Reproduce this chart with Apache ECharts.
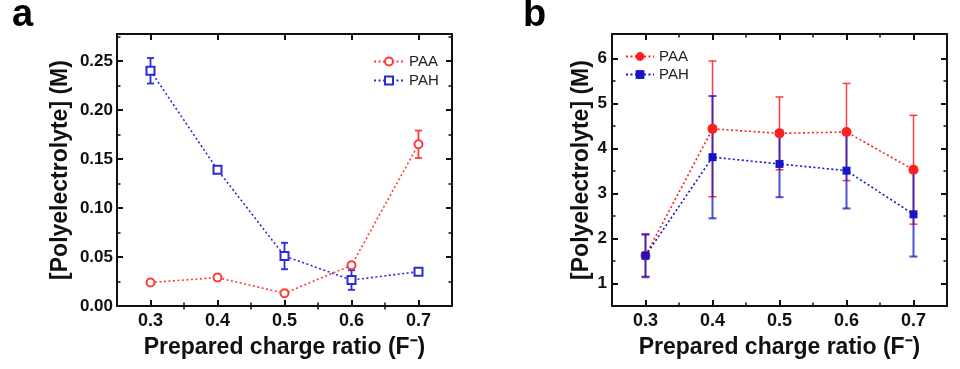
<!DOCTYPE html>
<html>
<head>
<meta charset="utf-8">
<script src="https://cdn.jsdelivr.net/npm/echarts@6/dist/echarts.min.js"></script>
<style>
html,body{margin:0;padding:0;background:#fff;}
#c{width:960px;height:369px;}
</style>
</head>
<body>
<div id="c"></div>
<script>
// ---- data ----
const ratios = [0.3, 0.4, 0.5, 0.6, 0.7];
const xTicks = [0.3, 0.4, 0.5, 0.6, 0.7];
const xMinorTicks = [0.35, 0.45, 0.55, 0.65];
const yTicksA = [0, 0.05, 0.10, 0.15, 0.20, 0.25];
const yMinorTicksA = [0.025, 0.075, 0.125, 0.175, 0.225, 0.275];
const yTicksB = [1, 2, 3, 4, 5, 6];
const yMinorTicksB = [1.5, 2.5, 3.5, 4.5, 5.5];

const paaA = [0.024, 0.029, 0.013, 0.0415, 0.165];
const paaAErr = [0.002, 0.003, 0.003, 0.002, 0.014];
const pahA = [0.240, 0.139, 0.051, 0.0265, 0.035];
const pahAErr = [0.013, 0.003, 0.0135, 0.010, 0.003];

const paaB = [1.62, 4.44, 4.34, 4.37, 3.53];
const paaBErr = [0.46, 1.51, 0.81, 1.08, 1.21];
const pahB = [1.62, 3.81, 3.66, 3.51, 2.54];
const pahBErr = [0.48, 1.36, 0.74, 0.84, 0.94];

// ---- styling ----
const FONT = 'Liberation Sans, Arial, Helvetica, sans-serif';
const RED_A = '#ff3a3a', BLUE_A = '#2a2ad6';
const RED_B = '#ff1f1f', BLUE_B = '#1414c8';

const grids = [
  {left: 117, top: 34, width: 335, height: 272},
  {left: 612, top: 34, width: 335, height: 272}
];

function xAxes(gi) {
  const base = {gridIndex: gi, type: 'value', min: 0.25, max: 0.75, splitLine: {show: false},
    axisLine: {show: true, onZero: false, lineStyle: {color: '#111', width: 2}}};
  return [
    Object.assign({}, base, {position: 'bottom',
      axisTick: {show: true, inside: true, length: 6, lineStyle: {width: 2, color: '#111'}, customValues: xTicks},
      axisLabel: {show: true, customValues: xTicks, margin: 6, fontSize: 18, fontWeight: 'bold', color: '#111', fontFamily: FONT,
        formatter: v => v.toFixed(1)},
      name: 'Prepared charge ratio (F\u207B)', nameLocation: 'middle', nameGap: 30,
      nameTextStyle: {fontSize: 23, fontWeight: 'bold', color: '#111', fontFamily: FONT}}),
    Object.assign({}, base, {position: 'top',
      axisTick: {show: true, inside: true, length: 6, lineStyle: {width: 2, color: '#111'}, customValues: xTicks},
      axisLabel: {show: false}}),
    Object.assign({}, base, {position: 'bottom', axisLine: {show: false},
      axisTick: {show: true, inside: true, length: 3.5, lineStyle: {width: 1.5, color: '#111'}, customValues: xMinorTicks},
      axisLabel: {show: false}}),
    Object.assign({}, base, {position: 'top', axisLine: {show: false},
      axisTick: {show: true, inside: true, length: 3.5, lineStyle: {width: 1.5, color: '#111'}, customValues: xMinorTicks},
      axisLabel: {show: false}})
  ];
}

function yAxes(gi, min, max, ticks, minor, fmt, margin, nameGap) {
  const base = {gridIndex: gi, type: 'value', min: min, max: max, splitLine: {show: false},
    axisLine: {show: true, onZero: false, lineStyle: {color: '#111', width: 2}}};
  return [
    Object.assign({}, base, {position: 'left',
      axisTick: {show: true, inside: true, length: 6, lineStyle: {width: 2, color: '#111'}, customValues: ticks},
      axisLabel: {show: true, customValues: ticks, margin: margin, fontSize: 17, fontWeight: 'bold', color: '#111', fontFamily: FONT,
        formatter: fmt},
      name: '[Polyelectrolyte] (M)', nameLocation: 'middle', nameGap: nameGap, nameRotate: 90,
      nameTextStyle: {fontSize: 23, fontWeight: 'bold', color: '#111', fontFamily: FONT}}),
    Object.assign({}, base, {position: 'right',
      axisTick: {show: true, inside: true, length: 6, lineStyle: {width: 2, color: '#111'}, customValues: ticks},
      axisLabel: {show: false}}),
    Object.assign({}, base, {position: 'left', axisLine: {show: false},
      axisTick: {show: true, inside: true, length: 3.5, lineStyle: {width: 1.5, color: '#111'}, customValues: minor},
      axisLabel: {show: false}}),
    Object.assign({}, base, {position: 'right', axisLine: {show: false},
      axisTick: {show: true, inside: true, length: 3.5, lineStyle: {width: 1.5, color: '#111'}, customValues: minor},
      axisLabel: {show: false}})
  ];
}

function errData(vals, errs) {
  return ratios.map((r, i) => [r, vals[i] - errs[i], vals[i] + errs[i]]);
}
function pts(vals) {
  return ratios.map((r, i) => [r, vals[i]]);
}
function errSeries(name, xi, yi, vals, errs, color, opacity, width, cap) {
  return {
    name: name, type: 'custom', xAxisIndex: xi, yAxisIndex: yi, z: 1,
    itemStyle: {color: color},
    encode: {x: 0, y: [1, 2]},
    data: errData(vals, errs),
    renderItem: function (params, api) {
      const x = api.value(0);
      const lo = api.coord([x, api.value(1)]);
      const hi = api.coord([x, api.value(2)]);
      const st = {stroke: color, lineWidth: width, opacity: opacity};
      return {type: 'group', children: [
        {type: 'line', shape: {x1: hi[0], y1: hi[1], x2: lo[0], y2: lo[1]}, style: st},
        {type: 'line', shape: {x1: hi[0] - cap, y1: hi[1], x2: hi[0] + cap, y2: hi[1]}, style: st},
        {type: 'line', shape: {x1: lo[0] - cap, y1: lo[1], x2: lo[0] + cap, y2: lo[1]}, style: st}
      ]};
    }
  };
}
function lineSeries(name, xi, yi, vals, color, symbol, size, filled) {
  return {
    name: name, type: 'line', xAxisIndex: xi, yAxisIndex: yi, z: 3,
    data: pts(vals), symbol: symbol, symbolSize: size, showSymbol: true,
    color: color,
    itemStyle: {color: color, borderColor: color, borderWidth: filled ? 0 : 1.6},
    lineStyle: {color: color, width: 1.6, type: [2, 2.5]},
    emphasis: {disabled: true},
    animation: false
  };
}

const option = {
  animation: false,
  backgroundColor: '#fff',
  title: [
    {text: 'a', left: 12, top: -3, padding: 0, textStyle: {fontSize: 38, fontWeight: 'bold', color: '#000', fontFamily: FONT}},
    {text: 'b', left: 523, top: -3, padding: 0, textStyle: {fontSize: 38, fontWeight: 'bold', color: '#000', fontFamily: FONT}}
  ],
  grid: grids,
  legend: [
    {orient: 'vertical', left: 373, top: 54, itemWidth: 30, itemHeight: 10, itemGap: 4, padding: 0,
      data: ['PAA (a)', 'PAH (a)'], formatter: n => n.split(' ')[0],
      textStyle: {fontSize: 15, color: '#222', fontFamily: FONT}, selectedMode: false},
    {orient: 'vertical', left: 625, top: 49, itemWidth: 28, itemHeight: 11, itemGap: 3, padding: 0,
      data: ['PAA (b)', 'PAH (b)'], formatter: n => n.split(' ')[0],
      textStyle: {fontSize: 15, color: '#222', fontFamily: FONT}, selectedMode: false}
  ],
  xAxis: xAxes(0).concat(xAxes(1)),
  yAxis: yAxes(0, 0, 0.2775, yTicksA, yMinorTicksA, v => v.toFixed(2), 4, 45)
    .concat(yAxes(1, 0.5, 6.55, yTicksB, yMinorTicksB, v => String(Math.round(v)), 5, 19)),
  series: [
    errSeries('errPAAa', 0, 0, paaA, paaAErr, RED_A, 1, 1.8, 3.5),
    errSeries('errPAHa', 0, 0, pahA, pahAErr, BLUE_A, 1, 1.8, 3.5),
    lineSeries('PAA (a)', 0, 0, paaA, RED_A, 'emptyCircle', 8, false),
    lineSeries('PAH (a)', 0, 0, pahA, BLUE_A, 'emptyRect', 8, false),
    errSeries('errPAAb', 4, 4, paaB, paaBErr, RED_B, 0.85, 1.5, 4),
    errSeries('errPAHb', 4, 4, pahB, pahBErr, BLUE_B, 0.75, 2, 4),
    lineSeries('PAA (b)', 4, 4, paaB, RED_B, 'circle', 10, true),
    lineSeries('PAH (b)', 4, 4, pahB, BLUE_B, 'rect', 8, true)
  ]
};

const chart = echarts.init(document.getElementById('c'), null, {renderer: 'canvas'});
chart.setOption(option);
</script>
</body>
</html>
